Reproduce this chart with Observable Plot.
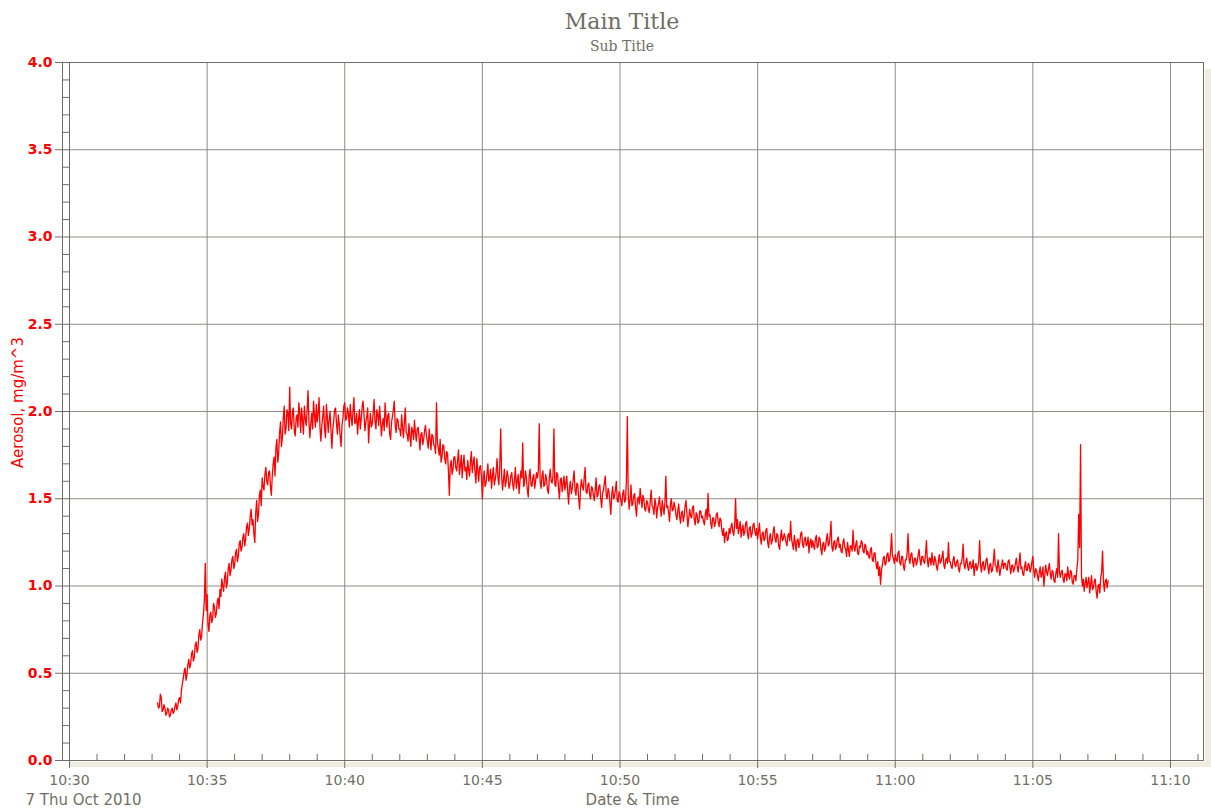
<!DOCTYPE html>
<html>
<head>
<meta charset="utf-8">
<script src="https://cdn.jsdelivr.net/npm/d3@7"></script>
<script src="https://cdn.jsdelivr.net/npm/@observablehq/plot@0.6"></script>
<style>
  html, body { margin: 0; padding: 0; background: #ffffff; }
  #wrap { position: relative; width: 1211px; height: 810px; overflow: hidden; background: #ffffff; }
  .band { position: absolute; background: #efede0; }
  #chart { position: absolute; left: 0; top: 0; }
  .ttl { position: absolute; left: 0; width: 1244px; text-align: center; font-family: "DejaVu Serif", serif; color: #6e6e66; white-space: nowrap; }
  #main { top: 11px; font-size: 22px; line-height: 22px; }
  #sub { top: 39px; font-size: 14px; line-height: 14px; }
</style>
</head>
<body>
<div id="wrap">
  <div class="band" style="left:69px; top:762px; width:1142px; height:5px;"></div>
  <div class="band" style="left:1205px; top:69px; width:6px; height:698px;"></div>
  <div id="chart"></div>
  <div class="ttl" id="main">Main Title</div>
  <div class="ttl" id="sub">Sub Title</div>
</div>
<script>
// ---- data: aerosol readings every 2 s starting 10:33:12 (one row per minute) ----
const startTime = new Date(2010, 9, 7, 10, 33, 12);
const stepSeconds = 2;
const aerosol = [
  /*10:33*/ 0.33,0.30,0.31,0.38,0.36,0.28,0.29,0.32,0.30,0.26,0.27,0.30,0.29,0.25,0.26,0.29,0.30,0.27,0.28,0.31,0.33,0.29,0.31,0.35,
  /*10:34*/ 0.36,0.33,0.40,0.44,0.47,0.51,0.53,0.46,0.49,0.55,0.58,0.53,0.55,0.61,0.63,0.57,0.59,0.66,0.68,0.62,0.64,0.72,0.75,0.69,0.71,0.79,0.84,0.92,1.13,0.86,
  /*10:35*/ 0.95,0.78,0.74,0.83,0.85,0.79,0.81,0.90,0.88,0.82,0.84,0.91,0.93,0.87,0.98,0.94,1.04,1.00,0.97,1.05,1.08,0.99,1.02,1.10,1.13,1.06,1.09,1.15,1.17,1.10,
  /*10:36*/ 1.12,1.19,1.21,1.14,1.17,1.24,1.26,1.20,1.22,1.28,1.30,1.23,1.27,1.34,1.36,1.29,1.33,1.40,1.44,1.35,1.38,1.30,1.25,1.42,1.49,1.37,1.41,1.52,1.55,1.46,
  /*10:37*/ 1.62,1.57,1.55,1.64,1.68,1.60,1.58,1.65,1.66,1.57,1.52,1.63,1.70,1.74,1.63,1.79,1.84,1.71,1.76,1.88,1.94,1.80,1.85,1.96,2.03,1.87,1.90,2.01,1.99,1.89,
  /*10:38*/ 2.14,1.93,1.90,2.00,2.02,1.89,1.86,1.96,1.98,1.91,2.05,1.99,1.88,2.02,1.95,1.87,2.03,1.96,1.92,2.01,2.12,1.94,1.85,1.93,1.99,1.90,2.06,1.98,1.91,2.04,
  /*10:39*/ 1.94,1.99,2.08,1.91,1.83,1.92,1.97,2.03,1.90,1.85,2.04,1.97,1.88,1.95,2.00,1.89,1.79,1.90,1.95,2.01,2.02,1.93,1.87,1.98,1.93,1.86,1.80,1.92,1.96,2.03,
  /*10:40*/ 2.05,1.95,1.96,2.02,1.99,1.91,2.04,1.97,1.92,2.00,2.08,1.93,1.94,1.99,1.87,1.95,2.01,1.90,1.96,2.03,2.06,1.98,1.89,1.94,1.97,2.02,1.82,1.93,1.99,1.91,
  /*10:41*/ 1.93,1.99,2.07,1.94,1.90,2.01,1.98,1.92,2.03,1.95,1.86,1.93,1.96,1.89,2.05,1.97,1.91,1.98,1.99,1.87,1.84,1.94,1.97,2.01,2.06,1.92,1.88,1.96,1.95,1.90,
  /*10:42*/ 1.90,1.86,1.98,1.91,1.85,1.94,2.02,1.88,1.87,1.83,1.93,1.86,1.80,1.91,1.89,1.84,1.95,1.88,1.83,1.90,1.91,1.85,1.78,1.87,1.88,1.81,1.84,1.89,1.92,1.86,
  /*10:43*/ 1.83,1.79,1.90,1.84,1.78,1.87,1.86,1.81,1.80,1.76,2.05,1.82,1.79,1.75,1.84,1.71,1.74,1.81,1.80,1.73,1.70,1.77,1.76,1.66,1.52,1.69,1.72,1.64,1.67,1.74,
  /*10:44*/ 1.74,1.68,1.66,1.72,1.78,1.64,1.69,1.75,1.62,1.70,1.75,1.66,1.68,1.61,1.72,1.67,1.63,1.71,1.77,1.65,1.70,1.74,1.65,1.59,1.73,1.66,1.60,1.68,1.69,1.63,
  /*10:45*/ 1.50,1.61,1.66,1.57,1.59,1.64,1.70,1.60,1.62,1.67,1.56,1.63,1.68,1.58,1.61,1.65,1.73,1.62,1.58,1.69,1.90,1.63,1.55,1.61,1.67,1.57,1.60,1.66,1.63,1.56,
  /*10:46*/ 1.58,1.63,1.65,1.59,1.55,1.61,1.68,1.56,1.60,1.64,1.53,1.60,1.66,1.62,1.82,1.57,1.59,1.66,1.62,1.55,1.51,1.63,1.67,1.58,1.57,1.62,1.64,1.56,1.60,1.65,
  /*10:47*/ 1.62,1.66,1.93,1.60,1.56,1.63,1.66,1.57,1.58,1.64,1.61,1.55,1.53,1.62,1.67,1.60,1.59,1.63,1.90,1.58,1.57,1.65,1.64,1.56,1.50,1.61,1.62,1.54,1.58,1.63,
  /*10:48*/ 1.55,1.59,1.63,1.54,1.47,1.57,1.60,1.53,1.56,1.61,1.66,1.55,1.52,1.59,1.58,1.50,1.44,1.56,1.61,1.57,1.55,1.62,1.68,1.54,1.53,1.58,1.59,1.52,1.50,1.57,
  /*10:49*/ 1.56,1.52,1.49,1.55,1.62,1.51,1.52,1.57,1.58,1.50,1.45,1.53,1.55,1.59,1.63,1.52,1.50,1.56,1.54,1.48,1.41,1.52,1.57,1.50,1.51,1.55,1.60,1.49,1.48,1.54,
  /*10:50*/ 1.52,1.49,1.46,1.53,1.55,1.48,1.49,1.60,1.97,1.52,1.44,1.50,1.58,1.46,1.47,1.52,1.53,1.45,1.40,1.49,1.51,1.47,1.56,1.50,1.45,1.52,1.50,1.44,1.43,1.49,
  /*10:51*/ 1.48,1.44,1.42,1.49,1.55,1.46,1.45,1.41,1.50,1.47,1.39,1.45,1.47,1.51,1.44,1.40,1.49,1.45,1.41,1.48,1.63,1.45,1.46,1.42,1.37,1.47,1.50,1.43,1.44,1.48,
  /*10:52*/ 1.45,1.41,1.38,1.43,1.47,1.40,1.36,1.42,1.43,1.37,1.40,1.46,1.49,1.41,1.34,1.39,1.44,1.40,1.39,1.45,1.46,1.38,1.35,1.42,1.41,1.36,1.37,1.43,1.43,1.39,
  /*10:53*/ 1.40,1.37,1.35,1.41,1.44,1.38,1.53,1.40,1.41,1.36,1.33,1.39,1.39,1.34,1.36,1.41,1.42,1.37,1.34,1.39,1.38,1.32,1.29,1.33,1.25,1.30,1.31,1.26,1.27,1.33,
  /*10:54*/ 1.30,1.34,1.36,1.31,1.29,1.35,1.50,1.33,1.38,1.30,1.33,1.37,1.28,1.32,1.35,1.29,1.31,1.36,1.37,1.30,1.27,1.33,1.34,1.28,1.30,1.35,1.36,1.31,1.29,1.33,
  /*10:55*/ 1.27,1.31,1.36,1.28,1.24,1.30,1.31,1.26,1.27,1.32,1.33,1.25,1.22,1.28,1.30,1.24,1.26,1.31,1.34,1.27,1.25,1.30,1.29,1.23,1.21,1.28,1.32,1.26,1.27,1.30,
  /*10:56*/ 1.28,1.25,1.23,1.29,1.30,1.26,1.37,1.27,1.24,1.21,1.29,1.25,1.20,1.26,1.27,1.22,1.25,1.30,1.31,1.24,1.22,1.27,1.28,1.23,1.24,1.28,1.19,1.25,1.27,1.22,
  /*10:57*/ 1.26,1.23,1.21,1.27,1.29,1.22,1.23,1.28,1.27,1.21,1.18,1.24,1.25,1.20,1.22,1.27,1.30,1.23,1.24,1.29,1.37,1.22,1.20,1.25,1.26,1.21,1.23,1.27,1.28,1.22,
  /*10:58*/ 1.24,1.20,1.19,1.25,1.27,1.22,1.21,1.17,1.25,1.21,1.17,1.23,1.23,1.20,1.32,1.22,1.20,1.24,1.26,1.19,1.18,1.23,1.22,1.26,1.25,1.20,1.19,1.24,1.23,1.18,
  /*10:59*/ 1.20,1.17,1.16,1.21,1.22,1.15,1.14,1.19,1.19,1.13,1.10,1.14,1.06,1.11,1.01,1.09,1.12,1.16,1.17,1.12,1.13,1.18,1.19,1.14,1.15,1.20,1.30,1.17,1.16,1.13,
  /*11:00*/ 1.18,1.15,1.14,1.19,1.20,1.13,1.12,1.17,1.17,1.11,1.09,1.15,1.15,1.19,1.30,1.16,1.13,1.18,1.19,1.14,1.11,1.16,1.16,1.12,1.14,1.18,1.21,1.15,1.12,1.17,
  /*11:01*/ 1.17,1.14,1.13,1.18,1.26,1.15,1.11,1.16,1.16,1.12,1.19,1.14,1.12,1.17,1.15,1.11,1.09,1.14,1.18,1.13,1.14,1.17,1.20,1.12,1.10,1.15,1.16,1.13,1.25,1.14,
  /*11:02*/ 1.14,1.11,1.10,1.15,1.17,1.12,1.11,1.14,1.15,1.10,1.08,1.13,1.13,1.16,1.24,1.12,1.10,1.14,1.16,1.11,1.09,1.13,1.14,1.10,1.11,1.15,1.06,1.11,1.13,1.09,
  /*11:03*/ 1.11,1.14,1.26,1.12,1.08,1.13,1.14,1.09,1.10,1.15,1.16,1.11,1.07,1.12,1.13,1.08,1.09,1.14,1.21,1.12,1.11,1.08,1.15,1.11,1.06,1.10,1.12,1.15,1.10,1.13,
  /*11:04*/ 1.13,1.10,1.09,1.14,1.15,1.11,1.07,1.12,1.12,1.08,1.10,1.13,1.16,1.11,1.08,1.13,1.19,1.10,1.11,1.07,1.06,1.11,1.14,1.09,1.09,1.13,1.12,1.08,1.10,1.14,
  /*11:05*/ 1.17,1.09,1.05,1.10,1.09,1.06,1.03,1.08,1.11,1.05,1.07,1.11,1.00,1.06,1.12,1.08,1.06,1.10,1.13,1.07,1.04,1.09,1.08,1.03,1.02,1.07,1.10,1.05,1.30,1.08,
  /*11:06*/ 1.05,1.08,1.09,1.04,1.02,1.07,1.07,1.03,1.11,1.06,1.04,1.09,1.08,1.02,1.01,1.06,1.06,1.03,1.10,1.15,1.41,1.22,1.81,1.06,1.00,1.04,0.97,1.02,1.05,0.99,
  /*11:07*/ 1.02,1.05,0.96,1.01,1.06,0.98,0.99,1.03,1.04,0.97,0.93,1.00,1.01,0.96,1.05,1.08,1.20,1.02,0.97,1.03,1.04,0.99,1.03
];

// ---- axes ----
const xDomainStart = new Date(2010, 9, 7, 10, 30, 0);
const xDomainEnd = new Date(2010, 9, 7, 11, 11, 12);
const xTickLabels = ["10:30","10:35","10:40","10:45","10:50","10:55","11:00","11:05","11:10"];
const yTickValues = [0.0, 0.5, 1.0, 1.5, 2.0, 2.5, 3.0, 3.5, 4.0];
const yLabel = "Aerosol, mg/m^3";
const xLabel = "Date & Time";
const dateLabel = "7 Thu Oct 2010";

const xTicks = xTickLabels.map(s => {
  const [h, m] = s.split(":").map(Number);
  return new Date(2010, 9, 7, h, m, 0);
});
const xMinor = d3.timeMinute.range(xDomainStart, xDomainEnd).filter(d => d.getMinutes() % 5 !== 0);
const yMinor = d3.range(1, 40).filter(i => i % 5 !== 0).map(i => i / 10);

const rows = aerosol.map((v, i) => ({
  time: new Date(startTime.getTime() + i * stepSeconds * 1000),
  value: v
}));

const gridColor = "#8c8c84";
const axisColor = "#6e6e66";
const textGray = "#707068";

const chart = Plot.plot({
  width: 1211,
  height: 810,
  marginLeft: 69,
  marginTop: 62,
  marginRight: 8,
  marginBottom: 50,
  style: { background: "transparent", overflow: "visible", fontFamily: "DejaVu Sans" },
  x: { type: "time", domain: [xDomainStart, xDomainEnd] },
  y: { domain: [0, 4] },
  marks: [
    Plot.ruleY(yTickValues, { stroke: gridColor }),
    Plot.ruleX(xTicks, { stroke: gridColor }),
    Plot.frame({ stroke: axisColor }),
    Plot.ruleX([xDomainStart], { dx: -7, stroke: axisColor }),
    Plot.axisY(yMinor, { tickSize: 7, tickFormat: () => "", stroke: axisColor, label: null }),
    Plot.axisY(yTickValues, { tickSize: 14, tickPadding: 3, tickFormat: d3.format(".1f"), fill: "#ff0000", stroke: axisColor, fontWeight: "bold", fontSize: 14, label: null }),
    Plot.axisX(xTicks, { tickSize: 8, tickPadding: 7, tickFormat: d3.timeFormat("%H:%M"), fill: textGray, stroke: axisColor, fontSize: 14, label: null }),
    Plot.ruleX(xMinor, { y1: 0, y2: 0, insetTop: -6, stroke: axisColor }),
    Plot.line(rows, { x: "time", y: "value", stroke: "#ff0000", strokeWidth: 1.3 }),
    Plot.text([yLabel], { frameAnchor: "left", dx: -51, dy: -9, rotate: -90, textAnchor: "middle", fill: "#ff0000", fontSize: 15 }),
    Plot.text([xLabel], { frameAnchor: "bottom", dx: -4, dy: 44, fill: textGray, fontSize: 15 }),
    Plot.text([dateLabel], { frameAnchor: "bottom-left", dx: -44, dy: 44, textAnchor: "start", fill: textGray, fontSize: 15 })
  ]
});
document.getElementById("chart").appendChild(chart);
</script>
</body>
</html>
